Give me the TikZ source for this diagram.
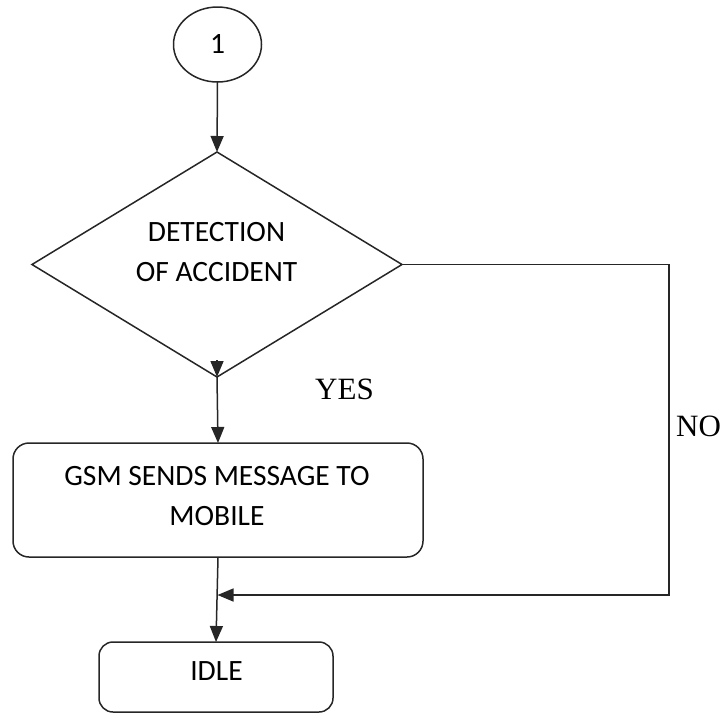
\documentclass[tikz,border=0pt]{standalone}
\usepackage{fontspec}
\setmainfont{Carlito}
\newfontfamily\serifyes{Liberation Serif}
\usetikzlibrary{shapes.geometric,arrows.meta}
\begin{document}
\begin{tikzpicture}[x=1pt,y=-1pt,
  line/.style={draw=black!85, line width=1.5pt},
  arr/.style={line, -{Triangle[length=16pt,width=13pt]}},
  boxtext/.style={font=\fontsize{29.5}{40}\selectfont, align=center, text=black, inner sep=0pt},
  rbox/.style={line, rounded corners=16pt, inner sep=0pt, outer sep=0pt},
  yn/.style={font=\serifyes\fontsize{31}{36}\selectfont, anchor=base west, inner sep=0pt, text=black},
]
\useasboundingbox (0,0) rectangle (725,713);

% nodes
\node[line, ellipse, minimum width=88pt, minimum height=75pt, inner sep=0pt, outer sep=0pt, boxtext] (start) at (217.5,44.5) {1};
\node[line, diamond, minimum width=370pt, minimum height=225pt, inner sep=0pt, outer sep=0pt] (dec) at (217,264.5) {};
\node[boxtext] (dectext) at (216.5,252.5) {DETECTION\\OF ACCIDENT};
\node[rbox, minimum width=410pt, minimum height=114pt] (gsm) at (218,500) {};
\node[boxtext] (gsmtext) at (217,496) {GSM SENDS MESSAGE TO\\MOBILE};
\node[rbox, rounded corners=14pt, minimum width=234pt, minimum height=70pt] (idle) at (216,677) {};
\node[boxtext] (idletext) at (216.5,671.5) {IDLE};

% labels
\node[yn] (yes) at (315,399) {YES};
\node[yn] (no) at (676,436) {NO};

% connectors
\coordinate (nocorner) at (669,595);
\coordinate (join) at (217.5,595);
\draw[arr] (start.south) -- (dec.north);
\draw[arr] ([yshift=17pt]dec.south) -- (dec.south);
\draw[arr] (dec.south) -- (gsm.north);
\draw[arr] (gsm.south) -- (idle.north);
\draw[arr] (dec.east) -| (nocorner) -- (join);
\end{tikzpicture}
\end{document}
